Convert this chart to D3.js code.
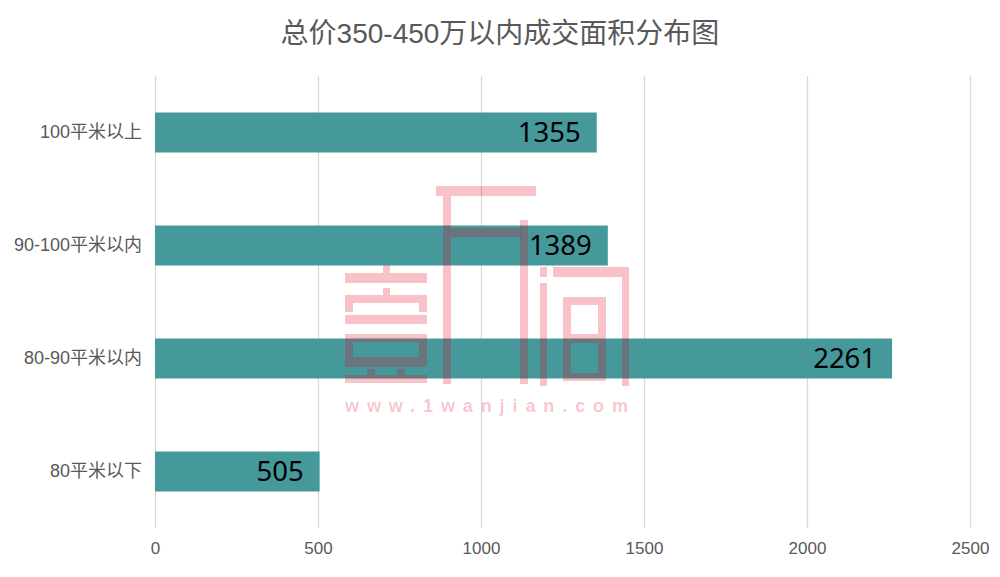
<!DOCTYPE html>
<html>
<head>
<meta charset="utf-8">
<script src="https://cdn.jsdelivr.net/npm/d3@7"></script>
<style>
  html, body { margin: 0; padding: 0; background: #fff; }
  svg { display: block; }
</style>
</head>
<body>
<svg id="chart" width="1000" height="577"></svg>
<script>
// ---- data ----
const title = "总价350-450万以内成交面积分布图";
const categories = ["100平米以上", "90-100平米以内", "80-90平米以内", "80平米以下"];
const values = [1355, 1389, 2261, 505];
const xTicks = [0, 500, 1000, 1500, 2000, 2500];

// ---- layout ----
const W = 1000, H = 577;
const svg = d3.select("#chart");
const x = d3.scaleLinear().domain([0, 2500]).range([155, 970]);
const y = d3.scaleBand().domain(categories).range([76, 528]).paddingInner(0.646).paddingOuter(0.323);

const labelFont = "'Liberation Sans', Arial, 'Noto Sans CJK SC', sans-serif";
const gray = "#595959";

// title
svg.append("text")
  .attr("x", W / 2).attr("y", 43)
  .attr("text-anchor", "middle")
  .attr("font-family", labelFont)
  .attr("font-size", 28)
  .attr("fill", gray)
  .text(title);

// gridlines via axis
const gx = svg.append("g")
  .attr("transform", "translate(0,528)")
  .call(d3.axisBottom(x).tickValues(xTicks).tickSize(-452).tickPadding(14).tickFormat(d3.format("d")));
gx.select(".domain").remove();
gx.selectAll(".tick line").attr("stroke", "#d9d9d9").attr("stroke-width", 1.3);
gx.selectAll(".tick text")
  .attr("font-family", labelFont)
  .attr("font-size", 17)
  .attr("fill", gray);

// category axis
const gy = svg.append("g")
  .attr("transform", "translate(142,0)")
  .call(d3.axisLeft(y).tickSize(0).tickPadding(0));
gy.select(".domain").remove();
gy.selectAll(".tick text")
  .attr("font-family", labelFont)
  .attr("font-size", 18)
  .attr("fill", gray);

// bars
svg.append("g").selectAll("rect")
  .data(values)
  .join("rect")
  .attr("x", x(0))
  .attr("y", (d, i) => y(categories[i]))
  .attr("width", d => x(d) - x(0))
  .attr("height", y.bandwidth())
  .attr("fill", "#46999b");

// value labels
svg.append("g").selectAll("text")
  .data(values)
  .join("text")
  .attr("x", d => x(d) - 16)
  .attr("y", (d, i) => y(categories[i]) + y.bandwidth() / 2)
  .attr("dy", "0.36em")
  .attr("text-anchor", "end")
  .attr("font-family", "'Noto Sans', 'Open Sans', sans-serif")
  .attr("font-size", 27.5)
  .attr("fill", "#000")
  .text(d => d);

// watermark (decorative logo, drawn on top)
const wmShapes = [
  // 壹
  [383, 265, 7, 8], [345, 273, 82, 10], [383, 288, 7, 7], [345, 295, 82, 8],
  [345, 303, 8, 9], [419, 303, 8, 9], [345, 315, 82, 9],
  [345, 334, 82, 8], [345, 342, 8, 25], [419, 342, 8, 25], [353, 357, 66, 10],
  [367, 369, 8, 6], [397, 369, 8, 6], [345, 375, 82, 8],
  // 房(户)
  [436, 186, 100, 10], [443, 196, 8, 188], [451, 228, 70, 9], [520, 220, 8, 164],
  // 间
  [540, 267, 7, 10], [540, 283, 7, 103], [553, 267, 76, 10], [622, 277, 7, 109],
  [563, 297, 43, 8], [563, 305, 8, 76], [598, 305, 8, 76], [571, 334, 27, 9], [571, 373, 27, 8]
];
const wm = svg.append("g").attr("fill", "rgb(226,0,26)").attr("fill-opacity", 0.24);
wm.selectAll("rect").data(wmShapes).join("rect")
  .attr("x", d => d[0]).attr("y", d => d[1]).attr("width", d => d[2]).attr("height", d => d[3]);
wm.append("text")
  .attr("x", 345).attr("y", 412)
  .attr("textLength", 283).attr("lengthAdjust", "spacing")
  .attr("font-family", "'Liberation Sans', Arial, sans-serif")
  .attr("font-weight", "bold")
  .attr("font-size", 18)
  .text("www.1wanjian.com");
</script>
</body>
</html>
